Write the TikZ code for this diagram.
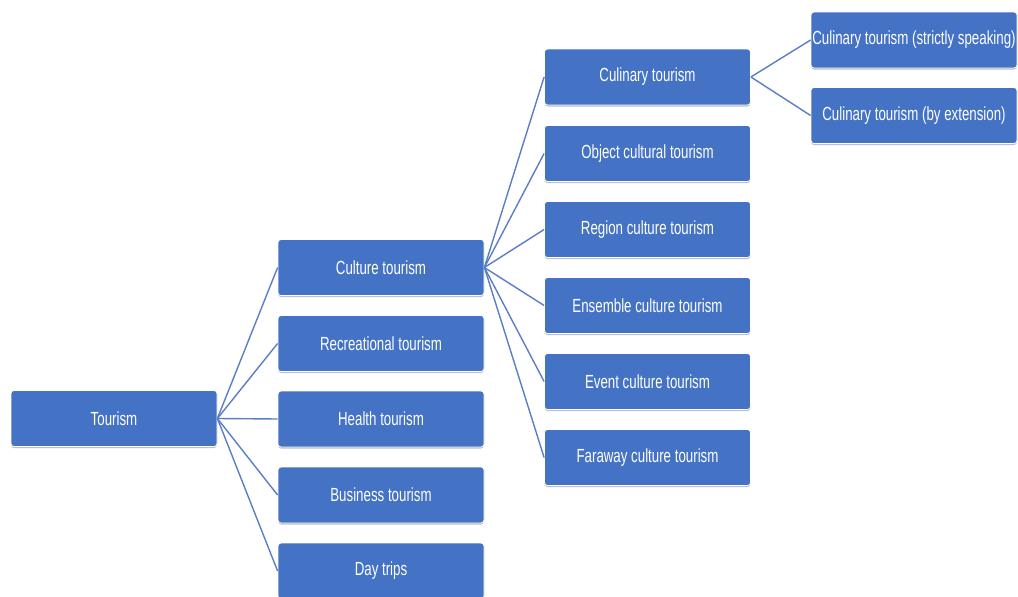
\documentclass[tikz,border=0pt]{standalone}
\usepackage{fontspec}
\setmainfont{Liberation Sans}[FakeStretch=0.70]
\usetikzlibrary{shadows}
\definecolor{boxblue}{HTML}{4472C4}
\definecolor{linkblue}{HTML}{5A7EC6}
\begin{document}
\begin{tikzpicture}[x=1pt,y=-1pt,
  topic/.style={rectangle, rounded corners=3pt, fill=boxblue, draw=white,
    line width=0.8pt, minimum width=206pt, minimum height=56pt, text=white,
    font=\fontsize{19}{22}\selectfont, inner sep=0pt,
    drop shadow={shadow xshift=0pt, shadow yshift=-1.5pt, opacity=0.25, fill=black}},
  link/.style={draw=linkblue, line width=1.4pt}]
\useasboundingbox (0,0) rectangle (1018,597);
\clip (0,0) rectangle (1018,597);

% root
\node[topic] (tour) at (114,418.5) {Tourism};

% second level
\node[topic] (cult) at (381,267.5) {Culture tourism};
\node[topic] (recr) at (381,343.5) {Recreational tourism};
\node[topic] (heal) at (381,419) {Health tourism};
\node[topic] (busi) at (381,495) {Business tourism};
\node[topic] (dayt) at (381,571) {Day trips};

% kinds of culture tourism
\node[topic] (culi) at (647.5,77) {Culinary tourism};
\node[topic] (obje) at (647.5,153.5) {Object cultural tourism};
\node[topic] (regi) at (647.5,229.5) {Region culture tourism};
\node[topic] (ense) at (647.5,305.5) {Ensemble culture tourism};
\node[topic] (even) at (647.5,381.5) {Event culture tourism};
\node[topic] (fara) at (647.5,457.5) {Faraway culture tourism};

% kinds of culinary tourism
\node[topic] (stri) at (914,40) {Culinary tourism (strictly speaking)};
\node[topic] (exte) at (914,115.5) {Culinary tourism (by extension)};

% connectors
\foreach \c in {cult,recr,heal,busi,dayt}
  \draw[link] (tour.east) -- (\c.west);
\foreach \c in {culi,obje,regi,ense,even,fara}
  \draw[link] (cult.east) -- (\c.west);
\foreach \c in {stri,exte}
  \draw[link] (culi.east) -- (\c.west);
\end{tikzpicture}
\end{document}
